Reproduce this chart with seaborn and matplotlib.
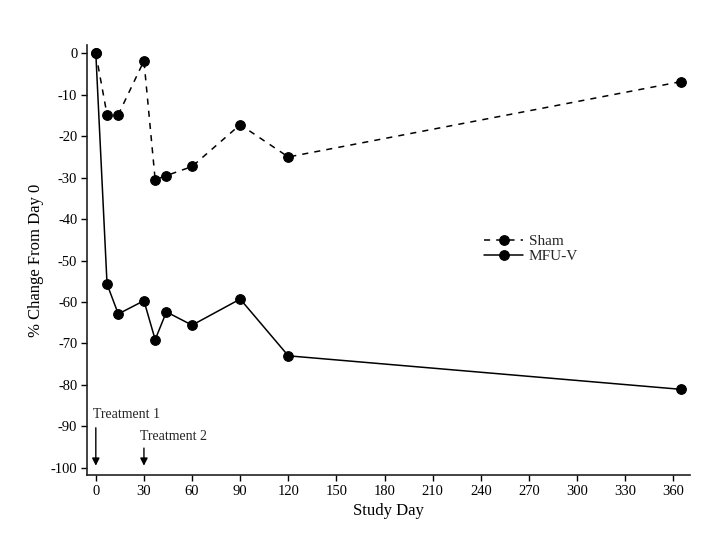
import matplotlib
matplotlib.use("Agg")
import matplotlib.pyplot as plt
import seaborn as sns
import pandas as pd

days = [0, 7, 14, 30, 37, 44, 60, 90, 120, 365]
sham = [0, -14.8, -14.8, -1.8, -30.5, -29.5, -27.3, -17.2, -25.0, -6.8]
mfuv = [0, -55.7, -62.9, -59.7, -69.1, -62.4, -65.6, -59.3, -73.0, -81.1]
xticks = list(range(0, 361, 30))
yticks = list(range(0, -101, -10))

sns.set_theme(style="ticks")
plt.rcParams['font.family'] = ['Liberation Serif', 'DejaVu Serif']
plt.rcParams['axes.unicode_minus'] = False

fig = plt.figure(figsize=(7.28, 5.57), dpi=100)
ax = fig.add_axes([0.1195, 0.147, 0.8285, 0.772])

df_s = pd.DataFrame({"day": days, "val": sham})
df_m = pd.DataFrame({"day": days, "val": mfuv})
sns.lineplot(data=df_s, x="day", y="val", ax=ax, color="black", marker="o",
             markersize=7, linestyle=(0, (4, 4)), linewidth=1.1, label="Sham",
             markeredgecolor="black")
sns.lineplot(data=df_m, x="day", y="val", ax=ax, color="black", marker="o",
             markersize=7, linestyle="-", linewidth=1.1, label="MFU-V",
             markeredgecolor="black")

ax.set_xlim(-5.5, 370.5)
ax.set_ylim(-101.8, 2)
ax.set_xticks(xticks)
ax.set_yticks(yticks)
ax.tick_params(labelsize=10.5, length=4, width=1, colors="black", direction="out", pad=3)
for s in ["top", "right"]:
    ax.spines[s].set_visible(False)
for s in ["left", "bottom"]:
    ax.spines[s].set_linewidth(1.2)
    ax.spines[s].set_color("#222222")

ax.set_xlabel("Study Day", fontsize=12, color="black", labelpad=4)
ax.set_ylabel("% Change From Day 0", fontsize=12, color="black", labelpad=5)

ax.annotate("", xy=(0, -100.2), xytext=(0, -89.7),
            arrowprops=dict(arrowstyle="-|>", color="black", lw=1, mutation_scale=11))
ax.text(-1.5, -87.2, "Treatment 1", fontsize=10, va="center", ha="left")
ax.annotate("", xy=(30, -100.2), xytext=(30, -94.6),
            arrowprops=dict(arrowstyle="-|>", color="black", lw=1, mutation_scale=11))
ax.text(27.5, -92.5, "Treatment 2", fontsize=10, va="center", ha="left")

leg = ax.legend(loc="upper left", bbox_to_anchor=(0.64, 0.585), frameon=False,
                fontsize=11, handlelength=2.6, handletextpad=0.35,
                labelspacing=0.1, borderpad=0.2)

fig.savefig("out.png", dpi=100)
